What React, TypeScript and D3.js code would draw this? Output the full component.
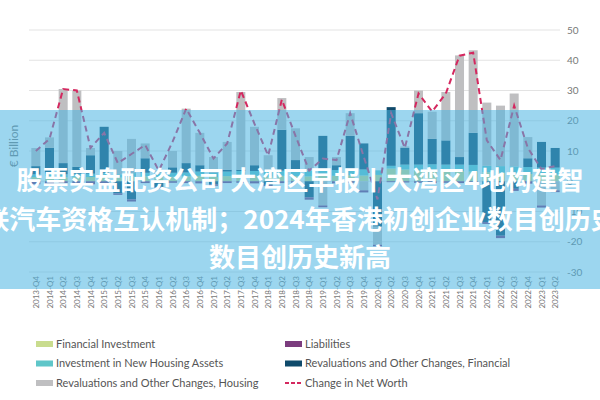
import React, { useRef, useEffect } from 'react'
import * as d3 from 'd3'

// quarterly household net worth components, € billion
const quarters = [
  '2013-Q4', '2014-Q1', '2014-Q2', '2014-Q3', '2014-Q4', '2015-Q1', '2015-Q2', '2015-Q3',
  '2015-Q4', '2016-Q1', '2016-Q2', '2016-Q3', '2016-Q4', '2017-Q1', '2017-Q2', '2017-Q3',
  '2017-Q4', '2018-Q1', '2018-Q2', '2018-Q3', '2018-Q4', '2019-Q1', '2019-Q2', '2019-Q3',
  '2019-Q4', '2020-Q1', '2020-Q2', '2020-Q3', '2020-Q4', '2021-Q1', '2021-Q2', '2021-Q3',
  '2021-Q4', '2022-Q1', '2022-Q2', '2022-Q3', '2022-Q4', '2023-Q1', '2023-Q2',
]
const financialInvestment = [
  1.4, 1.6, 1.3, 1.5, 1.4, 1.7, 1.2, 1.5, 1.6, 1.3, 1.5, 1.6, 1.8, 1.4, 1.7, 1.9, 1.8, 1.5, 1.8, 1.7,
  1.6, 1.9, 1.8, 2.0, 1.9, 2.1, 4.2, 3.9, 3.6, 3.8, 3.5, 3.4, 3.2, 3.0, 2.8, 2.6, 2.4, 2.3, 2.2,
]
const newHousing = [
  0.9, 0.9, 1.0, 1.0, 1.1, 1.1, 1.1, 1.2, 1.2, 1.2, 1.3, 1.3, 1.4, 1.4, 1.5, 1.5, 1.6, 1.6, 1.7, 1.7,
  1.8, 1.8, 1.9, 1.9, 2.0, 1.5, 0.9, 1.6, 1.9, 1.8, 2.0, 2.1, 2.2, 2.1, 2.2, 2.3, 2.3, 2.2, 2.3,
]
const revalFinancial = [
  2.7, 8.5, 3.7, 2.3, 6.1, 15.2, -4.0, -6.0, 4.8, -2.0, 1.8, 3.1, 2.1, -1.0, 0.6, 0.4, 1.9, -1.2, 13.5, 3.6,
  -5.3, 11.3, 1.6, 11.1, 8.6, -15.0, 19.4, 5.5, 17.0, 8.4, 8.0, 2.5, 10.6, -13.5, -18.0, -2.5, 2.9, 8.5, 6.5,
]
const revalHousing = [
  6.0, 3.5, 24.5, 25.2, 2.4, 0, 7.7, 11.3, 4.9, 1.1, 5.4, 18.0, 10.7, 5.2, 9.2, 25.7, 12.7, 5.5, 10.5, 10.5,
  4.6, -8.0, 2.7, 7.5, -3.0, -6.0, 0, 0.5, 7.5, 9.0, 16.0, 33.6, 27.3, 20.9, 20.0, 24.1, 7.0, -8.0, -3.0,
]
const liabilities = [
  -1.0, -0.8, -0.6, -0.9, -1.0, -1.2, -0.5, -0.7, -0.6, -0.4, -0.5, -0.6, -0.7, -0.5, -0.6, -0.5, -0.7, -0.4, -0.6, -0.5,
  -0.8, -0.6, -0.7, -0.5, -0.7, -0.5, -0.3, -0.4, -0.5, -0.6, -0.5, -0.6, -0.7, -0.6, -0.8, -0.7, -0.8, -0.7, -0.6,
]
const netWorth = [
  10, 14, 30.5, 30, 11, 16, 6, 9, 12, 3.5, 13, 24, 16, 7.5, 12.5, 30, 19, 8.5, 27, 15,
  3.5, 7.5, 7, 22.5, 8, -6, 22.5, 11, 29, 23, 29, 41.5, 42.5, 13.5, 7, 25, 11, 4, 5,
]
const yTicks = [-30, -20, -10, 0, 10, 20, 30, 40, 50]

const titleLines = [
  '股票实盘配资公司 大湾区早报丨大湾区4地构建智',
  '联汽车资格互认机制；2024年香港初创企业数目创历史',
  '数目创历史新高',
]

const keys = ['fi', 'nha', 'revFin', 'revHousing', 'liab']
const colors: Record<string, string> = {
  fi: '#c9dc8e',
  nha: '#5fc6c9',
  revHousing: '#bfbfc1',
  liab: '#7b3c7e',
  revFin: '#0f4a6b',
  net: '#d4285f',
}

const legendItems = [
  { key: 'fi', label: 'Financial Investment', col: 0, row: 0 },
  { key: 'nha', label: 'Investment in New Housing Assets', col: 0, row: 1 },
  { key: 'revHousing', label: 'Revaluations and Other Changes, Housing', col: 0, row: 2 },
  { key: 'liab', label: 'Liabilities', col: 1, row: 0 },
  { key: 'revFin', label: 'Revaluations and Other Changes, Financial', col: 1, row: 1 },
  { key: 'net', label: 'Change in Net Worth', col: 1, row: 2 },
]

export default function App() {
  const svgRef = useRef<SVGSVGElement>(null)
  const width = 600
  const height = 400

  useEffect(() => {
    if (!svgRef.current) return
    document.body.style.margin = '0'

    const svg = d3.select(svgRef.current)
    svg.selectAll('*').remove()

    const x = d3.scaleBand<string>()
      .domain(quarters)
      .range([29, 562])
      .paddingInner(0.34)
      .paddingOuter(0.17)
    const y = d3.scaleLinear().domain([-30, 50]).range([272, 30])
    const bw = x.bandwidth()

    // gridlines
    svg.append('g')
      .selectAll('line')
      .data(yTicks)
      .join('line')
      .attr('x1', 29)
      .attr('x2', 560)
      .attr('y1', d => y(d))
      .attr('y2', d => y(d))
      .attr('stroke', '#e3e3e3')
      .attr('stroke-width', 1)

    // y tick labels (right side)
    svg.append('g')
      .selectAll('text')
      .data(yTicks)
      .join('text')
      .attr('x', 567)
      .attr('y', d => y(d))
      .attr('dy', '0.35em')
      .attr('font-family', 'Lato, sans-serif')
      .attr('font-size', 10)
      .attr('fill', '#777')
      .text(d => d)

    // y axis title
    svg.append('text')
      .attr('transform', 'translate(18,146) rotate(-90)')
      .attr('text-anchor', 'middle')
      .attr('font-family', 'Lato, sans-serif')
      .attr('font-size', 12)
      .attr('fill', '#7a7a7a')
      .text('€ Billion')

    // stacked bars
    const rows = quarters.map((q, i) => ({
      q,
      fi: financialInvestment[i],
      nha: newHousing[i],
      revFin: revalFinancial[i],
      revHousing: revalHousing[i],
      liab: liabilities[i],
    }))
    const series = d3.stack<any>()
      .keys(keys)
      .offset(d3.stackOffsetDiverging)(rows)

    svg.append('g')
      .selectAll('g')
      .data(series)
      .join('g')
      .attr('fill', d => colors[d.key])
      .selectAll('rect')
      .data(d => d)
      .join('rect')
      .attr('x', d => x(d.data.q)!)
      .attr('y', d => y(Math.max(d[0], d[1])))
      .attr('width', bw)
      .attr('height', d => Math.abs(y(d[0]) - y(d[1])))

    // change in net worth
    const line = d3.line<number>()
      .x((_, i) => x(quarters[i])! + bw / 2)
      .y(d => y(d))
    svg.append('path')
      .datum(netWorth)
      .attr('d', line)
      .attr('fill', 'none')
      .attr('stroke', colors.net)
      .attr('stroke-width', 2)
      .attr('stroke-dasharray', '6,4')

    // x tick labels
    svg.append('g')
      .selectAll('text')
      .data(quarters)
      .join('text')
      .attr('transform', d => `translate(${x(d)! + bw / 2 + 3},276) rotate(-90)`)
      .attr('text-anchor', 'end')
      .attr('font-family', 'Lato, sans-serif')
      .attr('font-size', 8)
      .attr('fill', '#777')
      .text(d => d)

    // legend
    const legend = svg.append('g')
    legendItems.forEach(item => {
      const lx = item.col === 0 ? 36 : 285
      const ly = 344 + item.row * 19.5
      if (item.key === 'net') {
        legend.append('line')
          .attr('x1', lx)
          .attr('x2', lx + 17)
          .attr('y1', ly)
          .attr('y2', ly)
          .attr('stroke', colors.net)
          .attr('stroke-width', 2)
          .attr('stroke-dasharray', '4,2')
      } else {
        legend.append('rect')
          .attr('x', lx)
          .attr('y', ly - 3)
          .attr('width', 17)
          .attr('height', 6)
          .attr('fill', colors[item.key])
      }
      legend.append('text')
        .attr('x', lx + 20)
        .attr('y', ly)
        .attr('dy', '0.35em')
        .attr('font-family', 'Lato, sans-serif')
        .attr('font-size', 11)
        .attr('fill', '#555')
        .text(item.label)
    })

    // translucent banner with the headline on top
    svg.append('rect')
      .attr('x', 0)
      .attr('y', 110)
      .attr('width', width)
      .attr('height', 179)
      .attr('fill', 'rgba(75,180,225,0.55)')

    svg.append('g')
      .selectAll('text')
      .data(titleLines)
      .join('text')
      .attr('x', 300)
      .attr('y', (_, i) => [190, 229, 267][i])
      .attr('text-anchor', 'middle')
      .attr('font-family', '"Noto Sans CJK SC", sans-serif')
      .attr('font-weight', 700)
      .attr('font-size', 26)
      .attr('fill', '#fff')
      .text(d => d)
  }, [])

  return (
    <svg
      ref={svgRef}
      width={width}
      height={height}
      style={{ display: 'block', background: '#fff' }}
    />
  )
}
